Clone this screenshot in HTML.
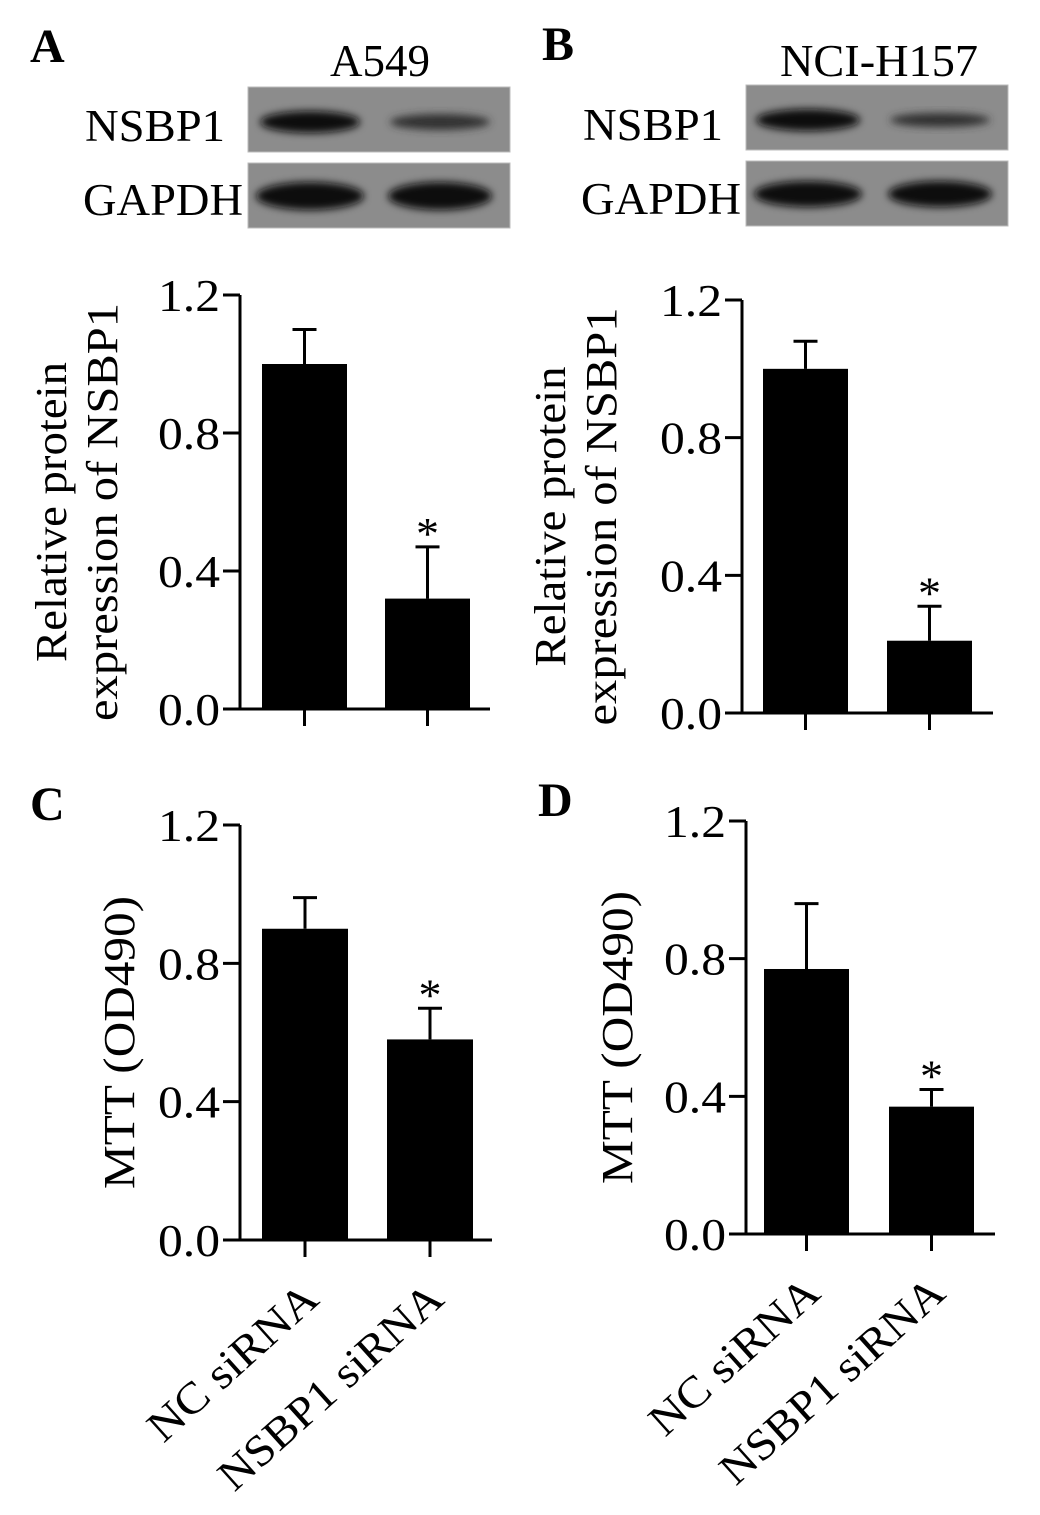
<!DOCTYPE html>
<html><head><meta charset="utf-8"><style>
html,body{margin:0;padding:0;background:#fff}
svg{display:block}
text{font-family:"Liberation Serif",serif;fill:#000}
</style></head><body>
<svg id="fig" width="1040" height="1515" viewBox="0 0 1040 1515" xmlns="http://www.w3.org/2000/svg">
<defs>
<filter id="blur" x="-20%" y="-50%" width="140%" height="200%"><feGaussianBlur stdDeviation="4"/></filter>
</defs>
<g>
<text x="30" y="62" font-size="48" font-weight="bold">A</text>
<text x="380" y="76" font-size="46" text-anchor="middle" textLength="100" lengthAdjust="spacingAndGlyphs">A549</text>
<text x="85" y="141" font-size="45" textLength="140" lengthAdjust="spacingAndGlyphs">NSBP1</text>
<text x="83" y="215" font-size="45" textLength="160" lengthAdjust="spacingAndGlyphs">GAPDH</text>
<rect x="248" y="87" width="262" height="65" fill="#8c8c8c" stroke="#bbb"/>
<ellipse cx="310" cy="122" rx="50" ry="11" fill="#111" filter="url(#blur)"/>
<ellipse cx="440" cy="122" rx="50" ry="8" fill="#333" filter="url(#blur)"/>
<rect x="248" y="163" width="262" height="65" fill="#8c8c8c" stroke="#bbb"/>
<ellipse cx="310" cy="196" rx="54" ry="14" fill="#0a0a0a" filter="url(#blur)"/>
<ellipse cx="440" cy="196" rx="52" ry="14" fill="#0a0a0a" filter="url(#blur)"/>
</g>
<g>
<text x="542" y="60" font-size="48" font-weight="bold">B</text>
<text x="879" y="76" font-size="46" text-anchor="middle" textLength="198" lengthAdjust="spacingAndGlyphs">NCI-H157</text>
<text x="583" y="140" font-size="45" textLength="140" lengthAdjust="spacingAndGlyphs">NSBP1</text>
<text x="581" y="214" font-size="45" textLength="160" lengthAdjust="spacingAndGlyphs">GAPDH</text>
<rect x="746" y="85" width="262" height="65" fill="#8c8c8c" stroke="#bbb"/>
<ellipse cx="808" cy="120" rx="52" ry="11" fill="#0d0d0d" filter="url(#blur)"/>
<ellipse cx="940" cy="120" rx="50" ry="7" fill="#333" filter="url(#blur)"/>
<rect x="746" y="161" width="262" height="65" fill="#8c8c8c" stroke="#bbb"/>
<ellipse cx="808" cy="194" rx="54" ry="13" fill="#0a0a0a" filter="url(#blur)"/>
<ellipse cx="940" cy="194" rx="52" ry="13" fill="#0a0a0a" filter="url(#blur)"/>
</g>
<text x="30" y="820" font-size="48" font-weight="bold">C</text>
<text x="538" y="816" font-size="48" font-weight="bold">D</text>
</svg>
<script>
const categories = ["NC siRNA", "NSBP1 siRNA"];
const yTicks = ["0.0", "0.4", "0.8", "1.2"];
const tickValues = [0, 0.4, 0.8, 1.2];
const valuesA = [1.0, 0.32];
const errorsA = [0.10, 0.15];
const valuesB = [1.0, 0.21];
const errorsB = [0.08, 0.10];
const valuesC = [0.90, 0.58];
const errorsC = [0.09, 0.09];
const valuesD = [0.77, 0.37];
const errorsD = [0.19, 0.05];
const sigFlags = [false, true];

const NS = "http://www.w3.org/2000/svg";
const svg = document.getElementById('fig');
const catLens = [212, 285];
function mk(tag, attrs, parent) {
  const e = document.createElementNS(NS, tag);
  for (const k in attrs) e.setAttribute(k, attrs[k]);
  (parent || svg).appendChild(e);
  return e;
}
function drawPanel(key, cfg, values, errors, titleLines, titleLens, showCats) {
  const g = mk('g', {});
  
  
  const y = v => cfg.y0 - (v / 1.2) * (cfg.y0 - cfg.yTop);
  const xCenter = i => cfg.barStart + i * cfg.barStep + cfg.barW / 2;
  const ya = mk('line', {x1: cfg.ax, y1: y(1.2), x2: cfg.ax, y2: cfg.y0, stroke: '#000', 'stroke-width': 3}, g);
  
  
  const xa = mk('line', {x1: cfg.ax - 17, y1: cfg.y0, x2: cfg.axEnd, y2: cfg.y0, stroke: '#000', 'stroke-width': 3}, g);
  
  
  tickValues.forEach((tv, i) => {
    const yy = y(tv);
    if (tv > 0) mk('line', {x1: cfg.ax - 17, y1: yy, x2: cfg.ax, y2: yy, stroke: '#000', 'stroke-width': 3}, g);
    const t = mk('text', {x: cfg.ax - 20, y: yy + 16, 'font-size': 46, 'text-anchor': 'end', textLength: 62, lengthAdjust: 'spacingAndGlyphs'}, g);
    t.textContent = yTicks[i];
    
    
  });
  values.forEach((v, i) => {
    const cx = xCenter(i);
    mk('line', {x1: cx, y1: cfg.y0, x2: cx, y2: cfg.y0 + 17, stroke: '#000', 'stroke-width': 3}, g);
    const b = mk('rect', {x: cfg.barStart + i * cfg.barStep, y: y(v), width: cfg.barW, height: cfg.y0 - y(v), fill: '#000'}, g);
    
    
    const et = y(v + errors[i]);
    const e = mk('path', {d: `M${cx},${y(v)}V${et}M${cx - 12},${et}H${cx + 12}`, stroke: '#000', 'stroke-width': 3, fill: 'none'}, g);
    
    
    if (sigFlags[i]) {
      const s = mk('text', {x: cx, y: et + 2, 'font-size': 46, 'text-anchor': 'middle'}, g);
      s.textContent = '*';
      
      
    }
    if (showCats) {
      const ax = cx + 16, ay = cfg.y0 + 62;
      const t = mk('text', {x: ax, y: ay, 'font-size': 44, 'text-anchor': 'end', textLength: catLens[i], lengthAdjust: 'spacingAndGlyphs', transform: `rotate(-42 ${ax} ${ay})`}, g);
      t.textContent = categories[i];
      
      
    }
  });
  const mid = (cfg.y0 + y(1.2)) / 2 + 10;
  titleLines.forEach((ln, i) => {
    const tx = cfg.titleX + i * 51;
    const t = mk('text', {x: tx, y: mid, 'font-size': 44, 'text-anchor': 'middle', textLength: titleLens[i], lengthAdjust: 'spacingAndGlyphs', transform: `rotate(-90 ${tx} ${mid})`}, g);
    t.textContent = ln;
    
    
  });
}
drawPanel('a', {ax: 240, axEnd: 490, yTop: 295, y0: 709, barStart: 262, barStep: 123, barW: 85, titleX: 66}, valuesA, errorsA, ["Relative protein", "expression of NSBP1"], [300, 418], false);
drawPanel('b', {ax: 742, axEnd: 993, yTop: 300, y0: 713, barStart: 763, barStep: 124, barW: 85, titleX: 565}, valuesB, errorsB, ["Relative protein", "expression of NSBP1"], [300, 418], false);
drawPanel('c', {ax: 240, axEnd: 492, yTop: 825, y0: 1240, barStart: 262, barStep: 125, barW: 86, titleX: 134}, valuesC, errorsC, ["MTT (OD490)"], [293], true);
drawPanel('d', {ax: 746, axEnd: 995, yTop: 821, y0: 1234, barStart: 764, barStep: 125, barW: 85, titleX: 632}, valuesD, errorsD, ["MTT (OD490)"], [293], true);
</script>
</body></html>
